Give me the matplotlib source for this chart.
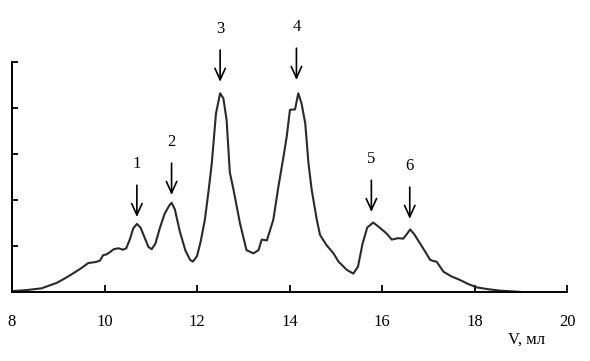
import matplotlib
matplotlib.use('Agg')
import matplotlib.pyplot as plt
import numpy as np

# elution profile (V, ml  vs. absorbance, arbitrary units)
vol = [8.0, 8.3, 8.64, 8.97, 9.15, 9.33, 9.5, 9.65, 9.8, 9.9, 9.97, 10.05, 10.12,
       10.2, 10.3, 10.4, 10.47, 10.55, 10.62, 10.7, 10.78, 10.88, 10.95, 11.02,
       11.1, 11.2, 11.3, 11.4, 11.45, 11.52, 11.63, 11.75, 11.85, 11.91, 12.0,
       12.08, 12.17, 12.25, 12.32, 12.41, 12.5, 12.57, 12.64, 12.71, 12.79, 12.93,
       13.07, 13.22, 13.33, 13.4, 13.51, 13.65, 13.76, 13.87, 13.94, 14.01, 14.12,
       14.19, 14.26, 14.34, 14.41, 14.48, 14.59, 14.66, 14.8, 14.95, 15.06, 15.24,
       15.38, 15.48, 15.58, 15.68, 15.81, 15.95, 16.1, 16.21, 16.35, 16.46, 16.53,
       16.61, 16.7, 16.82, 16.95, 17.04, 17.12, 17.18, 17.33, 17.5, 17.69, 17.85,
       18.05, 18.3, 18.55, 19.02]
absorb = [0.02, 0.04, 0.08, 0.20, 0.30, 0.41, 0.52, 0.63, 0.65, 0.68, 0.80, 0.82, 0.87,
          0.93, 0.95, 0.92, 0.95, 1.15, 1.38, 1.48, 1.40, 1.15, 0.98, 0.93,
          1.05, 1.40, 1.70, 1.88, 1.94, 1.80, 1.31, 0.90, 0.70, 0.66, 0.78,
          1.10, 1.57, 2.20, 2.80, 3.88, 4.32, 4.21, 3.74, 2.60, 2.22, 1.49,
          0.91, 0.84, 0.91, 1.14, 1.12, 1.57, 2.29, 2.94, 3.38, 3.96, 3.97,
          4.32, 4.10, 3.67, 2.80, 2.22, 1.57, 1.24, 1.02, 0.84, 0.66, 0.48,
          0.40, 0.55, 1.05, 1.40, 1.51, 1.40, 1.27, 1.14, 1.17, 1.16, 1.25,
          1.36, 1.25, 1.06, 0.85, 0.70, 0.67, 0.66, 0.44, 0.34, 0.26, 0.18,
          0.10, 0.06, 0.03, 0.0]

# peak markers: label, position, arrow tip height
peak_labels = ['1', '2', '3', '4', '5', '6']
peak_x = [10.7, 11.45, 12.5, 14.15, 15.77, 16.6]
peak_tip = [1.63, 2.11, 4.57, 4.61, 1.74, 1.59]

fig = plt.figure(figsize=(5.9, 3.61), dpi=100)
ax = fig.add_axes([12/590, 69/361, 555/590, 230/361])

ax.plot(vol, absorb, color='#2a2a2a', lw=1.5)

for lab, x, tip in zip(peak_labels, peak_x, peak_tip):
    ax.annotate('', xy=(x, tip), xytext=(x, tip + 0.69),
                arrowprops=dict(arrowstyle='->,head_length=0.55,head_width=0.25',
                                color='black', lw=1.2, mutation_scale=15,
                                shrinkA=0, shrinkB=0),
                annotation_clip=False)
    ax.text(x, tip + 1.15, lab, ha='center', va='center',
            family='Liberation Serif', fontsize=12, clip_on=False)

ax.set_xlim(8, 20)
ax.set_ylim(0, 5)
ax.set_xticks(np.arange(8, 21, 2))
ax.set_yticks(np.arange(0, 6, 1))
ax.set_yticklabels([])
ax.tick_params(axis='x', direction='in', length=5, width=1.3, pad=16,
               labelsize=12)
ax.tick_params(axis='y', direction='in', length=4, width=1.3)
for lbl in ax.get_xticklabels():
    lbl.set_family('Liberation Serif')
for s in ['top', 'right']:
    ax.spines[s].set_visible(False)
for s in ['left', 'bottom']:
    ax.spines[s].set_linewidth(1.4)

fig.text(527/590, 1 - 340/361, 'V, мл', ha='center', va='center',
         family='Liberation Serif', fontsize=12)

fig.savefig('out.png', dpi=100)
